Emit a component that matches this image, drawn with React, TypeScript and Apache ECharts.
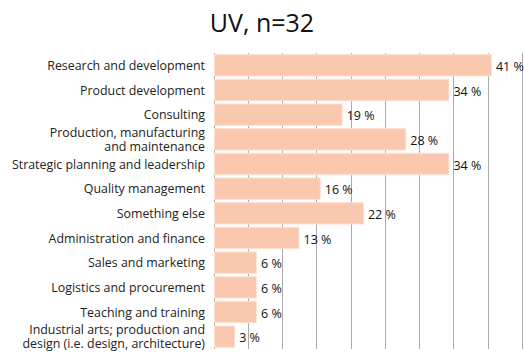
import React, { useEffect, useRef } from "react";
import * as echarts from "echarts";

const categories = [
  "Research and development",
  "Product development",
  "Consulting",
  "Production, manufacturing\nand maintenance",
  "Strategic planning and leadership",
  "Quality management",
  "Something else",
  "Administration and finance",
  "Sales and marketing",
  "Logistics and procurement",
  "Teaching and training",
  "Industrial arts; production and\ndesign (i.e. design, architecture)",
];

const percents = [40.6, 34.4, 18.8, 28.1, 34.4, 15.6, 21.9, 12.5, 6.3, 6.3, 6.3, 3.1];

const titleText = "UV, n=32";
const axisMax = 45;
const axisStep = 5;

const FONT = "'Open Sans', 'Noto Sans', sans-serif";

export default function App() {
  const ref = useRef<HTMLDivElement>(null);
  useEffect(() => {
    if (!ref.current) return;
    const chart = echarts.init(ref.current, undefined, { renderer: "svg" });
    chart.setOption({
      animation: false,
      title: {
        text: titleText,
        left: "center",
        top: 4,
        textStyle: { fontFamily: FONT, fontSize: 25, fontWeight: "normal", color: "#111" },
      },
      grid: { left: 214, right: 2, top: 53, bottom: 3, containLabel: false },
      xAxis: {
        type: "value",
        min: 0,
        max: axisMax,
        interval: axisStep,
        axisLabel: { show: false },
        axisLine: { show: false },
        axisTick: { show: false },
        splitLine: { show: true, lineStyle: { color: "#aaaaaa", width: 1 } },
      },
      yAxis: {
        type: "category",
        data: categories,
        inverse: true,
        axisLine: { show: false },
        axisTick: { show: false },
        axisLabel: {
          fontFamily: FONT,
          fontSize: 12.4,
          color: "#222",
          lineHeight: 13.5,
          margin: 9,
          align: "right",
        },
      },
      series: [
        {
          type: "bar",
          data: percents,
          barCategoryGap: "9%",
          itemStyle: { color: "#f9c8ae", borderColor: "#fde3d5", borderWidth: 1 },
          label: {
            show: true,
            position: "right",
            distance: 4,
            offset: [0, 1],
            fontFamily: FONT,
            fontSize: 12.5,
            color: "#111",
            formatter: (p: any) => Math.round(p.value) + " %",
          },
        },
      ],
    });
    return () => chart.dispose();
  }, []);
  return <div ref={ref} style={{ width: 524, height: 352, position: "absolute", left: 0, top: 0, background: "#fff" }} />;
}
